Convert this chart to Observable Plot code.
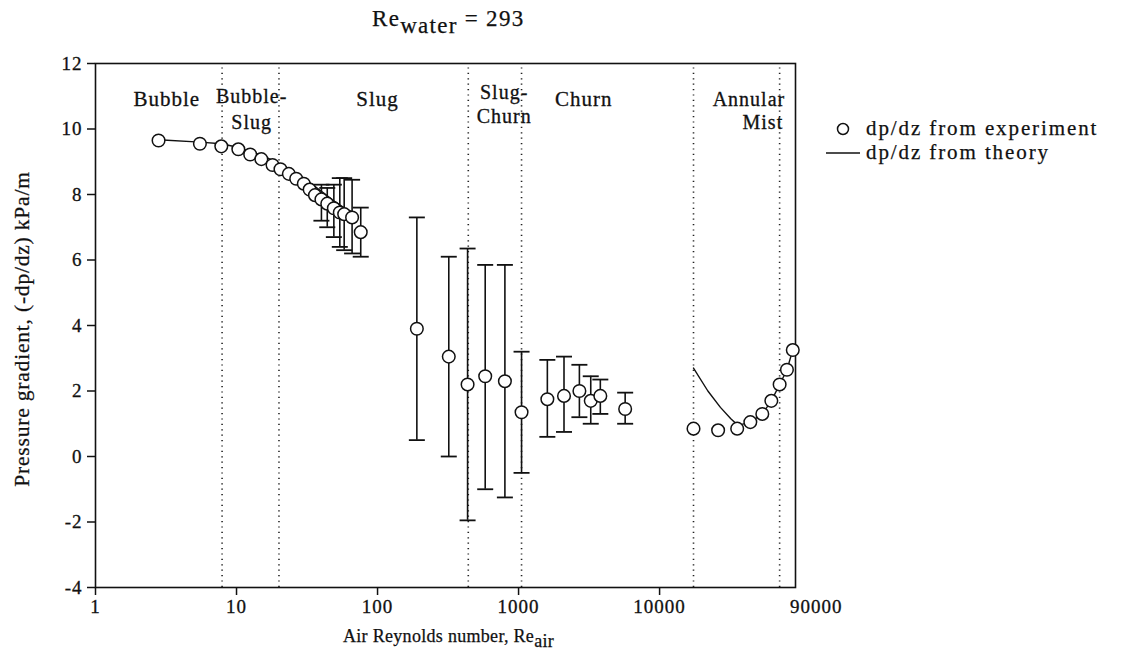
<!DOCTYPE html>
<html>
<head>
<meta charset="utf-8">
<script src="https://cdn.jsdelivr.net/npm/d3@7"></script>
<script src="https://cdn.jsdelivr.net/npm/@observablehq/plot@0.6"></script>
<style>
  body { margin: 0; background: #fff; font-family: "Liberation Serif", "DejaVu Serif", serif; }
  #wrap { position: relative; width: 1128px; height: 658px; overflow: hidden; }
  .ov { position: absolute; color: #111; white-space: nowrap; -webkit-text-stroke: 0.25px #111; }
  sub { font-size: 1em; vertical-align: -0.3em; line-height: 0; }
  #chart svg text { letter-spacing: 1px; stroke: #111; stroke-width: 0.3px; }
</style>
</head>
<body>
<div id="wrap">
  <div id="chart"></div>
  <div class="ov" style="left:372px; top:6px; font-size:23px; letter-spacing:1.3px;">Re<sub>water</sub> = 293</div>
  <div class="ov" style="left:343px; top:626px; font-size:18px; letter-spacing:0.3px;">Air Reynolds number, Re<sub>air</sub></div>
  <div class="ov" style="left:22px; top:329px; font-size:21.5px; letter-spacing:0.8px; transform: translate(-50%,-50%) rotate(-90deg);">Pressure gradient, (-dp/dz) kPa/m</div>
  <div class="ov" id="legend" style="left:826px; top:116px; font-size:21px; line-height:24px; letter-spacing:1.9px;"></div>
</div>
<script>
// ---- data ----
const expRe = [2.8, 5.5, 7.8, 10.3, 12.5, 15, 18, 20.5, 23.5, 26.5, 30, 33, 36, 40, 44, 49, 54, 58, 66, 76,
               190, 320, 435, 580, 800, 1050, 1600, 2100, 2700, 3250, 3800, 5700,
               17400, 26000, 35500, 44000, 53500, 62000, 71000, 80000, 88000];
const expDp = [9.65, 9.55, 9.47, 9.38, 9.22, 9.08, 8.9, 8.77, 8.63, 8.48, 8.33, 8.15, 7.98, 7.85, 7.72, 7.58, 7.45, 7.4, 7.3, 6.85,
               3.9, 3.05, 2.2, 2.45, 2.3, 1.35, 1.75, 1.85, 2.0, 1.7, 1.85, 1.45,
               0.85, 0.8, 0.85, 1.05, 1.3, 1.7, 2.2, 2.65, 3.25];
const errRe = [40, 44, 49, 54, 58, 66, 76, 190, 320, 435, 580, 800, 1050, 1600, 2100, 2700, 3250, 3800, 5700];
const errLo = [7.2, 7.0, 6.7, 6.4, 6.3, 6.2, 6.1, 0.5, 0.0, -1.95, -1.0, -1.25, -0.5, 0.6, 0.75, 1.2, 1.0, 1.3, 1.0];
const errHi = [8.3, 8.2, 8.3, 8.5, 8.5, 8.45, 7.6, 7.3, 6.1, 6.35, 5.85, 5.85, 3.2, 2.95, 3.05, 2.8, 2.45, 2.35, 1.95];
const theoryLowRe = [2.8, 5.5, 7.8, 10, 15, 20, 30, 40, 50, 60, 68];
const theoryLowDp = [9.67, 9.6, 9.55, 9.45, 9.2, 8.95, 8.5, 8.1, 7.78, 7.55, 7.45];
const theoryHighRe = [17400, 22000, 27000, 32000, 36000, 44000, 53500, 62000, 71000, 80000, 88000];
const theoryHighDp = [2.7, 2.0, 1.5, 1.15, 0.95, 1.05, 1.3, 1.7, 2.2, 2.65, 3.25];
const boundaries = [7.9, 20, 440, 1050, 17400, 71000];
const regionText = ["Bubble", "Bubble-", "Slug", "Slug", "Slug-", "Churn", "Churn", "Annular", "Mist"];
const regionRe   = [3.2, 12.8, 12.8, 100, 790, 790, 2900, 43000, 54000];
const regionDp   = [10.9, 10.98, 10.2, 10.9, 11.12, 10.37, 10.9, 10.9, 10.2];
const regionSize = [21, 20, 20, 21, 20, 20, 21, 20, 20];
const xTicks = [1, 10, 100, 1000, 10000];
const xEndTick = [90000];
const yTicks = [-4, -2, 0, 2, 4, 6, 8, 10, 12];
const legendItems = ["dp/dz from experiment", "dp/dz from theory"];

// ---- tables ----
const exp = expRe.map((r, i) => ({re: r, dp: expDp[i]}));
const err = errRe.map((r, i) => ({re: r, lo: errLo[i], hi: errHi[i]}));
const thLow = theoryLowRe.map((r, i) => ({re: r, dp: theoryLowDp[i]}));
const thHigh = theoryHighRe.map((r, i) => ({re: r, dp: theoryHighDp[i]}));
const regions = regionText.map((t, i) => ({t, re: regionRe[i], dp: regionDp[i], s: regionSize[i]}));
const capSymbol = { draw(ctx, size) { const w = Math.sqrt(size / Math.PI); ctx.moveTo(-w, 0); ctx.lineTo(w, 0); } };

const chart = Plot.plot({
  width: 1128, height: 658,
  marginLeft: 95, marginRight: 333, marginTop: 63, marginBottom: 71,
  style: {fontFamily: "Liberation Serif, serif", fontSize: "19px", color: "#111", background: "white", overflow: "visible"},
  x: {type: "log", domain: [1, 92000]},
  y: {domain: [-4, 12]},
  marks: [
    Plot.ruleX(boundaries, {x: d => d, y1: -4, y2: 12, stroke: "#222", strokeWidth: 1.6, strokeDasharray: "1.2,4.2"}),
    Plot.frame({stroke: "#111", strokeWidth: 1.6}),
    Plot.axisX({ticks: xTicks, tickFormat: () => "", tickSize: 8, label: null, strokeWidth: 1.5}),
    Plot.axisY({ticks: yTicks, tickFormat: () => "", tickSize: 8, label: null, strokeWidth: 1.5}),
    Plot.text(xTicks, {x: d => d, frameAnchor: "bottom", dy: 25, text: d => String(d), fontSize: 19, fill: "#111"}),
    Plot.text(xEndTick, {x: d => d, frameAnchor: "bottom", dy: 25, dx: 22, text: d => String(d), fontSize: 19, fill: "#111"}),
    Plot.text(yTicks, {y: d => d, frameAnchor: "left", dx: -13, textAnchor: "end", text: d => String(d), fontSize: 19, fill: "#111"}),
    Plot.line(thLow, {x: "re", y: "dp", stroke: "#111", strokeWidth: 1.4}),
    Plot.line(thHigh, {x: "re", y: "dp", stroke: "#111", strokeWidth: 1.4}),
    Plot.ruleX(err, {x: "re", y1: "lo", y2: "hi", stroke: "#111", strokeWidth: 1.6}),
    Plot.dot(err, {x: "re", y: "lo", symbol: capSymbol, r: 8, stroke: "#111", strokeWidth: 1.8, fill: "none"}),
    Plot.dot(err, {x: "re", y: "hi", symbol: capSymbol, r: 8, stroke: "#111", strokeWidth: 1.8, fill: "none"}),
    Plot.dot(exp, {x: "re", y: "dp", r: 6.3, stroke: "#111", strokeWidth: 1.5, fill: "white"}),
    Plot.text(regions, {x: "re", y: "dp", text: "t", fontSize: "s", fill: "#111"})
  ]
});
document.getElementById("chart").appendChild(chart);

// legend
const lg = document.getElementById("legend");
lg.innerHTML =
  `<div><svg width="34" height="14" style="vertical-align:-1px;margin-right:6px"><circle cx="17" cy="7" r="5.5" fill="white" stroke="#111" stroke-width="1.5"/></svg>${legendItems[0]}</div>` +
  `<div><svg width="34" height="14" style="vertical-align:-1px;margin-right:6px"><line x1="0" x2="34" y1="7" y2="7" stroke="#111" stroke-width="1.4"/></svg>${legendItems[1]}</div>`;
</script>
</body>
</html>
